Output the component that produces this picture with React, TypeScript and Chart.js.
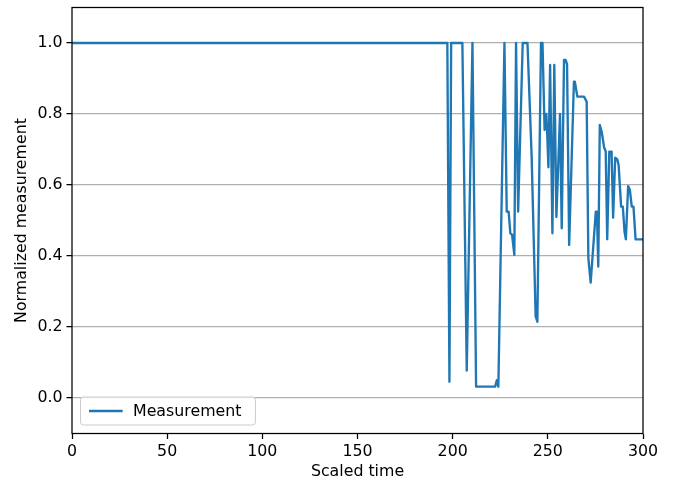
import React, { useEffect, useRef } from "react";
import { Chart, registerables } from "chart.js";

Chart.register(...registerables);

const times = [
  0, 197.2, 198.3, 199.2, 205.1, 207.4, 210.4, 212.3, 222.3, 223.2,
  224.0, 227.2, 228.4, 229.4, 230.3, 231.2, 232.4, 233.3, 234.4, 236.8,
  239.3, 241.5, 243.6, 244.5, 246.4, 247.2, 248.3, 249.2, 249.6, 250.3,
  251.2, 252.4, 253.4, 254.5, 256.4, 257.3, 258.5, 259.4, 260.1, 261.2,
  263.7, 264.2, 265.5, 269.0, 270.4, 271.3, 272.5, 275.2, 275.8, 276.5,
  277.3, 278.3, 279.6, 280.4, 281.2, 282.3, 283.5, 284.3, 285.4, 286.5,
  287.2, 288.5, 289.4, 290.3, 291.0, 292.2, 293.1, 294.1, 295.0, 296.1,
  300,
];

const values = [
  1, 1, 0.046, 1, 1, 0.077, 1, 0.032, 0.032, 0.05,
  0.032, 1, 0.525, 0.525, 0.464, 0.46, 0.403, 1, 0.525, 1,
  1, 0.68, 0.23, 0.215, 1, 1, 0.755, 0.8, 0.755, 0.65,
  0.938, 0.464, 0.938, 0.51, 0.8, 0.478, 0.952, 0.952, 0.94, 0.431,
  0.891, 0.891, 0.849, 0.849, 0.835, 0.393, 0.325, 0.525, 0.525, 0.37,
  0.769, 0.75, 0.705, 0.695, 0.447, 0.694, 0.694, 0.508, 0.677, 0.672,
  0.656, 0.539, 0.539, 0.468, 0.447, 0.597, 0.586, 0.539, 0.539, 0.447,
  0.447,
];

const xTicks = [0, 50, 100, 150, 200, 250, 300];
const yTicks = [0, 0.2, 0.4, 0.6, 0.8, 1.0];
const seriesLabel = "Measurement";
const xTitle = "Scaled time";
const yTitle = "Normalized measurement";

const FONT = "'DejaVu Sans', 'Liberation Sans', sans-serif";
const FS = 15.8;
const LINE_COLOR = "#1f77b4";

export default function App() {
  const ref = useRef<HTMLCanvasElement>(null);

  useEffect(() => {
    const canvas = ref.current;
    if (!canvas) return;

    const framePlugin = {
      id: "frame",
      afterDatasetsDraw(chart: any) {
        const { ctx, chartArea } = chart;
        const { left, right, top, bottom } = chartArea;
        ctx.save();
        ctx.strokeStyle = "#000";
        ctx.lineWidth = 1.26;
        ctx.strokeRect(left, top, right - left, bottom - top);
        ctx.restore();
      },
    };

    const legendPlugin = {
      id: "mplLegend",
      afterDraw(chart: any) {
        const { ctx, chartArea } = chart;
        const { left, bottom } = chartArea;
        ctx.save();
        ctx.font = `${FS}px ${FONT}`;
        const tw = ctx.measureText(seriesLabel).width;
        const bx = left + 8.5;
        const by = bottom - 8.5 - 28;
        const textX = left + 61;
        const bw = textX + tw + 14 - bx;
        const bh = 28;
        const r = 3;
        ctx.beginPath();
        ctx.moveTo(bx + r, by);
        ctx.lineTo(bx + bw - r, by);
        ctx.quadraticCurveTo(bx + bw, by, bx + bw, by + r);
        ctx.lineTo(bx + bw, by + bh - r);
        ctx.quadraticCurveTo(bx + bw, by + bh, bx + bw - r, by + bh);
        ctx.lineTo(bx + r, by + bh);
        ctx.quadraticCurveTo(bx, by + bh, bx, by + bh - r);
        ctx.lineTo(bx, by + r);
        ctx.quadraticCurveTo(bx, by, bx + r, by);
        ctx.closePath();
        ctx.fillStyle = "rgba(255,255,255,0.8)";
        ctx.fill();
        ctx.strokeStyle = "#cccccc";
        ctx.lineWidth = 1;
        ctx.stroke();

        const cy = by + bh / 2;
        ctx.beginPath();
        ctx.moveTo(left + 17, cy);
        ctx.lineTo(left + 50.7, cy);
        ctx.strokeStyle = LINE_COLOR;
        ctx.lineWidth = 2.35;
        ctx.stroke();

        ctx.fillStyle = "#000";
        ctx.textBaseline = "middle";
        ctx.textAlign = "left";
        ctx.fillText(seriesLabel, textX, cy + 0.5);
        ctx.restore();
      },
    };

    const chart = new Chart(canvas, {
      type: "line",
      data: {
        datasets: [
          {
            label: seriesLabel,
            data: times.map((t, i) => ({ x: t, y: values[i] })),
            borderColor: LINE_COLOR,
            backgroundColor: LINE_COLOR,
            borderWidth: 2.35,
            pointRadius: 0,
            tension: 0,
            fill: false,
            borderJoinStyle: "round",
            borderCapStyle: "butt",
          },
        ],
      },
      options: {
        responsive: false,
        animation: false,
        devicePixelRatio: 1,
        layout: { padding: { left: 0, right: 34, top: 7.5, bottom: 0 } },
        plugins: {
          legend: { display: false },
          tooltip: { enabled: false },
        },
        scales: {
          x: {
            type: "linear",
            min: 0,
            max: 300,
            afterBuildTicks: (axis: any) => {
              axis.ticks = xTicks.map((v) => ({ value: v }));
            },
            afterFit: (axis: any) => {
              axis.height = 52.5;
              axis.paddingLeft = 0;
              axis.paddingRight = 0;
            },
            border: { display: false },
            grid: {
              drawOnChartArea: false,
              drawTicks: true,
              tickLength: 5.5,
              tickColor: "#000",
              tickWidth: 1.26,
            },
            ticks: {
              autoSkip: false,
              maxRotation: 0,
              padding: 3,
              color: "#000",
              font: { family: FONT, size: FS },
              callback: (v: any) => String(v),
            },
            title: {
              display: true,
              text: xTitle,
              color: "#000",
              font: { family: FONT, size: FS },
              padding: { top: 0, bottom: 5 },
            },
          },
          y: {
            type: "linear",
            min: -0.1,
            max: 1.1,
            afterBuildTicks: (axis: any) => {
              axis.ticks = yTicks.map((v) => ({ value: v }));
            },
            afterFit: (axis: any) => {
              axis.width = 72;
              axis.paddingTop = 0;
              axis.paddingBottom = 0;
            },
            border: { display: false },
            grid: {
              drawOnChartArea: true,
              color: "#b0b0b0",
              lineWidth: 1.26,
              drawTicks: true,
              tickLength: 5.5,
              tickColor: "#000",
              tickWidth: 1.26,
            },
            ticks: {
              autoSkip: false,
              padding: 4,
              color: "#000",
              font: { family: FONT, size: FS },
              callback: (v: any) => Number(v).toFixed(1),
            },
            title: {
              display: true,
              text: yTitle,
              color: "#000",
              font: { family: FONT, size: FS },
              padding: { top: 12.5, bottom: 0 },
            },
          },
        },
      },
      plugins: [framePlugin, legendPlugin],
    } as any);

    return () => chart.destroy();
  }, []);

  return (
    <div style={{ position: "fixed", left: 0, top: 0, width: 677, height: 486, background: "#fff" }}>
      <canvas ref={ref} width={677} height={486} style={{ display: "block", width: 677, height: 486 }} />
    </div>
  );
}
